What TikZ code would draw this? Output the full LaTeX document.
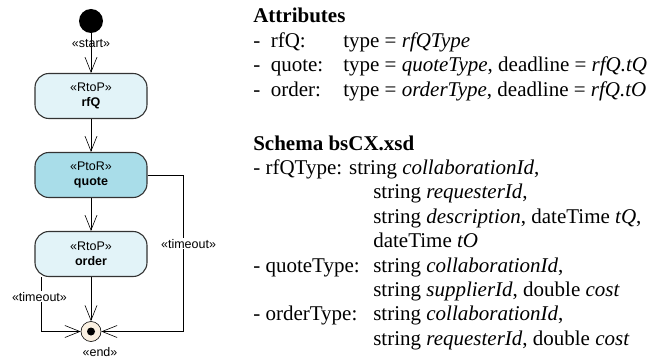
\documentclass[tikz,border=0pt]{standalone}
\usepackage{fontspec}
\setmainfont{Liberation Serif}
\newfontfamily\umlfont{Liberation Sans}
\usetikzlibrary{arrows.meta,positioning}
\definecolor{actlight}{HTML}{E2F3F8}
\definecolor{actdark}{HTML}{A9DDE9}
\definecolor{endfill}{HTML}{FAF0E1}

\begin{document}
\begin{tikzpicture}[x=1pt, y=1pt, -{Straight Barb[length=15pt,width=12pt]}, node distance = 79pt, on grid, semithick, action/.style = {draw=black!80, line width=1.1pt, rounded corners=14pt, minimum width=112pt, minimum height=45pt, align=center, fill=actlight, font=\umlfont\fontsize{12.5}{15}\selectfont}, stereo/.style = {font=\umlfont\fontsize{12.5}{15}\selectfont, inner sep=1pt}, txt/.style = {align=left, inner sep=0pt, font=\fontsize{21}{24.4}\selectfont}]
\useasboundingbox (0,0) rectangle (666,-358);
\node[circle, fill=black, minimum size=24pt, inner sep=0pt] (start) at (91,-21) {};
\node[action, below=75pt of start] (rfQ) {«RtoP»\\\textbf{rfQ}};
\node[action, fill=actdark, below=of rfQ] (quote) {«PtoR»\\\textbf{quote}};
\node[action, below=of quote] (order) {«RtoP»\\\textbf{order}};
\node[circle, draw, fill=endfill, minimum size=20pt, inner sep=0pt, below=77.5pt of order] (end) {};
\fill (end) circle (4pt);
\node[stereo, anchor=base] (endlbl) at (100,-356) {«end»};

\draw (start) -- node[stereo, pos=0.25] {«start»} (rfQ);
\draw (rfQ) -- (quote);
\draw (quote) -- (order);
\draw (order) -- (end);
\draw (quote.east) -- ++(36,0) |- node[stereo, fill=white, pos=0.22, xshift=5pt] {«timeout»} (end.east);
\draw ([xshift=7pt]order.south west) |- node[stereo, fill=white, pos=0.18, xshift=-2pt] {«timeout»} (end.west);

% last baseline of each block
\node[txt, anchor=base west] (attrs) at (253,-96.2) {\textbf{Attributes}\\
\makebox[90pt][l]{-~ rfQ:}type = \textit{rfQType}\\
\makebox[90pt][l]{-~ quote:}type = \textit{quoteType}, deadline = \textit{rfQ.tQ}\\
\makebox[90pt][l]{-~ order:}type = \textit{orderType}, deadline = \textit{rfQ.tO}};
\node[txt, anchor=base west] (schema) at (253,-345.2) {\textbf{Schema bsCX.xsd}\\
- rfQType: string \textit{collaborationId},\\
\hspace*{120pt}string \textit{requesterId},\\
\hspace*{120pt}string \textit{description}, dateTime \textit{tQ},\\
\hspace*{120pt}dateTime \textit{tO}\\
\makebox[120pt][l]{- quoteType:}string \textit{collaborationId},\\
\hspace*{120pt}string \textit{supplierId}, double \textit{cost}\\
\makebox[120pt][l]{- orderType:}string \textit{collaborationId},\\
\hspace*{120pt}string \textit{requesterId}, double \textit{cost}};
\end{tikzpicture}
\end{document}
